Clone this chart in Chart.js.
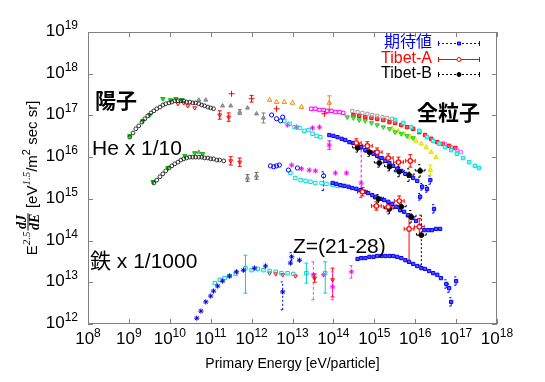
<!DOCTYPE html>
<html lang="ja">
<head>
<meta charset="utf-8">
<title>Cosmic ray energy spectrum</title>
<script src="https://cdn.jsdelivr.net/npm/chart.js@4.4.1/dist/chart.umd.min.js"></script>
<style>
html,body{margin:0;padding:0;background:#ffffff;}
canvas{display:block;}
</style>
</head>
<body>
<canvas id="chart" width="545" height="382"></canvas>
<script>
// ---- axis decades (tick labels are 10^n) ----
const xDecades = [8, 9, 10, 11, 12, 13, 14, 15, 16, 17, 18];
const yDecades = [12, 13, 14, 15, 16, 17, 18, 19];

// ---- data: each point = [log10 E (eV), log10 E^2.5 dJ/dE, err down (dex), err up (dex), x err (dex)] ----
// 期待値 (expected), proton / He / Fe groups
const expP = [[13.90,16.53],[14.00,16.51],[14.10,16.48],[14.20,16.44],[14.29,16.41],[14.39,16.36],[14.49,16.34],[14.59,16.29],[14.68,16.24],[14.78,16.17],[14.88,16.12],[14.98,16.08],[15.07,16.03],[15.17,15.98],[15.27,15.91],[15.37,15.86],[15.46,15.79],[15.56,15.72],[15.66,15.67],[15.76,15.60],[15.85,15.55],[15.95,15.50],[16.05,15.43],[16.17,15.29,0.08,0.08],[16.29,15.24,0.08,0.08],[16.37,15.45,0.1,0.1]];
const expHe = [[13.98,15.38],[14.07,15.36],[14.17,15.33],[14.27,15.31],[14.37,15.29],[14.46,15.26],[14.56,15.24],[14.66,15.21],[14.76,15.17],[14.85,15.14],[14.95,15.09],[15.05,15.05],[15.15,15.00],[15.24,14.97],[15.34,14.93],[15.44,14.88],[15.54,14.81],[15.63,14.73],[15.73,14.69],[15.83,14.61],[15.93,14.54],[16.02,14.47],[16.12,14.35],[16.22,14.25],[16.32,14.25],[16.41,14.25],[16.51,14.28],[16.61,14.28],[16.12,15.05,0.08,0.08],[16.46,14.76,0.1,0.1]];
const expFe = [[14.59,13.56],[14.68,13.58],[14.78,13.58],[14.88,13.61],[14.98,13.61],[15.07,13.63],[15.17,13.63],[15.27,13.63],[15.37,13.63],[15.46,13.63],[15.56,13.61],[15.66,13.58],[15.76,13.53],[15.85,13.49],[15.95,13.44],[16.05,13.39],[16.15,13.34],[16.24,13.32],[16.34,13.27],[16.44,13.22],[16.54,13.18],[16.63,13.10],[16.76,12.96,0.1,0.1],[16.83,12.86,0.1,0.1],[16.88,12.53,0.1,0.1],[17.00,13.03,0.1,0.1]];

// Tibet-A / Tibet-B
const tibetA_p = [[14.56,16.34,0.1,0.1,0.12],[14.83,16.27,0.1,0.1,0.12],[15.07,16.12,0.1,0.1,0.12],[15.34,15.98,0.1,0.1,0.12],[15.59,15.88,0.12,0.12,0.12],[15.88,15.91,0.15,0.15,0.12]];
const tibetA_he = [[14.71,15.17,0.1,0.1,0.12],[15.05,14.83,0.1,0.1,0.12],[15.34,14.81,0.12,0.12,0.12],[15.61,14.95,0.12,0.12,0.12],[15.85,14.28,0.82,0.29,0.12],[16.10,14.33,0.2,0.2,0.12]];
const tibetB_p = [[14.59,16.22,0.1,0.1,0.12],[14.88,16.12,0.1,0.1,0.12],[15.12,15.86,0.1,0.1,0.12],[15.37,15.77,0.1,0.1,0.12],[15.61,15.65,0.12,0.12,0.12],[15.85,15.57,0.15,0.15,0.12],[16.12,15.67,0.15,0.15,0.12]];
const tibetB_he = [[15.10,15.00,0.1,0.1,0.12],[15.37,14.76,0.12,0.12,0.12],[15.66,14.81,0.12,0.12,0.12],[15.90,14.57,0.15,0.15,0.12],[16.15,14.13,0.72,0.48,0.12]];

// proton (陽子) direct measurements
const pBlack = [[9.02,16.48],[9.10,16.58],[9.17,16.68],[9.24,16.75],[9.32,16.84],[9.39,16.92],[9.46,16.99],[9.54,17.06],[9.61,17.11],[9.68,17.16],[9.76,17.20],[9.83,17.25],[9.90,17.28],[9.98,17.30],[10.05,17.32],[10.12,17.35],[10.20,17.35],[10.27,17.35],[10.34,17.35],[10.41,17.32],[10.49,17.32],[10.56,17.30],[10.63,17.30],[10.71,17.28],[10.78,17.25],[10.85,17.23],[10.93,17.20],[11.00,17.18],[11.07,17.16]];
const pGreen = [[9.02,16.51],[9.34,16.87],[9.51,17.01],[9.83,17.40],[10.02,17.37],[10.15,17.40],[10.29,17.37]];
const pRed = [[10.20,17.28],[10.34,17.30],[10.44,17.23],[10.61,17.18],[11.22,17.01,0.1,0.1],[11.44,16.96,0.1,0.1]];
const pRedPlus = [[11.51,17.52],[12.00,17.40,0.08,0.08],[12.61,17.16],[13.78,17.04]];
const pGray = [[10.71,17.37],[10.88,17.37],[11.29,17.23],[11.49,17.23],[11.71,17.08,0.06,0.06],[11.90,17.18],[12.12,17.04],[12.29,16.94,0.12,0.12]];
const pOrange = [[12.44,17.37],[12.61,17.32],[12.80,17.32],[13.00,17.30],[13.22,17.20],[13.90,17.30,0.17,0.17]];
const pBlue = [[12.49,17.01],[12.61,16.92],[12.71,16.87],[12.76,16.96]];
const pCyan = [[12.80,16.87],[12.93,16.80],[13.05,16.72],[13.17,16.70],[13.29,16.63],[13.39,16.65],[13.49,16.56],[13.59,16.51],[13.68,16.48]];
const pMagenta = [[12.88,16.77],[13.10,16.72],[13.49,16.70],[13.66,16.72],[13.90,16.29,0.1,0.1]];

// helium (He x 1/10)
const heBlack = [[9.61,15.38],[9.68,15.45],[9.76,15.53],[9.83,15.60],[9.90,15.67],[9.98,15.74],[10.05,15.79],[10.12,15.84],[10.20,15.88],[10.27,15.93],[10.34,15.96],[10.41,15.98],[10.49,16.00],[10.56,16.00],[10.63,16.00],[10.71,16.00],[10.78,16.00],[10.85,15.98],[10.93,15.98],[11.00,15.96],[11.07,15.96],[11.15,15.93],[11.22,15.93],[11.32,15.91]];
const heGreen = [[9.59,15.41],[9.95,15.74],[10.37,16.03],[10.61,16.10],[10.80,16.08]];
const heGray = [[10.71,16.12],[11.90,15.50,0.08,0.08],[12.12,15.55,0.08,0.08]];
const heRed = [[11.49,15.91,0.1,0.1],[11.71,15.88,0.1,0.1]];
const heBlue = [[12.46,15.79],[12.54,15.77],[12.61,15.79],[12.68,15.81],[12.90,15.69],[13.12,15.74],[13.76,15.55,0.35,0.1]];
const heCyan = [[12.95,15.62],[13.07,15.50],[13.20,15.45],[13.32,15.43],[13.44,15.41],[13.56,15.38],[13.71,15.38],[13.83,15.36],[13.98,15.33],[14.10,15.31],[14.24,15.31]];
const heMagenta = [[12.98,15.81],[13.22,15.72],[13.41,15.69],[13.56,15.67],[14.05,15.62],[14.32,15.62],[14.68,15.38,0.35,0.8]];

// all particles (全粒子)
const allMagenta = [[13.46,17.16],[13.56,17.16],[13.66,17.13],[13.76,17.13],[13.85,17.11],[13.95,17.11],[14.05,17.08],[14.15,17.08],[14.24,17.06]];
const allGray = [[14.46,17.11],[14.59,17.08],[14.71,17.06],[14.83,17.04],[14.95,17.01],[15.07,16.99],[15.20,16.96],[15.32,16.94],[15.44,16.92]];
const allRed = [[14.49,17.01],[14.63,16.99],[14.78,16.96],[14.93,16.94],[15.07,16.92],[15.22,16.89],[15.37,16.84],[15.51,16.82],[15.66,16.77],[15.80,16.72],[15.95,16.68],[16.10,16.60],[16.24,16.53],[16.39,16.44],[16.54,16.36],[16.68,16.32],[16.83,16.27],[16.98,16.22]];
const allGreen = [[14.34,16.96],[14.49,16.94],[14.63,16.89],[14.78,16.87],[14.93,16.82],[15.07,16.77],[15.22,16.72],[15.37,16.68],[15.51,16.60],[15.66,16.56],[15.80,16.51],[15.95,16.46]];
const allYellow = [[15.44,16.68],[15.59,16.63],[15.73,16.56],[15.88,16.48],[16.02,16.39],[16.15,16.32],[16.27,16.24],[16.39,16.12],[16.51,16.00],[16.37,15.69,0.12,0.12]];
const allCyan = [[15.51,16.89],[15.71,16.82],[15.90,16.72],[16.10,16.63],[16.29,16.48],[16.44,16.39],[16.59,16.32],[16.73,16.24],[16.88,16.17],[17.02,16.08],[17.17,15.98],[17.32,15.88],[17.46,15.79],[17.56,15.74]];
const allPink = [[16.73,16.32],[16.88,16.24],[17.02,16.17],[17.12,16.12]];

// iron (鉄 x 1/1000)
const feBlue = [[10.66,12.14],[10.76,12.31],[10.88,12.53],[11.00,12.67],[11.07,12.79],[11.17,12.91],[11.29,13.03],[11.46,13.15],[11.63,13.25],[11.80,13.29],[12.07,13.34],[12.34,13.39],[12.76,12.77,0.43,0.24],[12.95,13.46],[12.98,13.61,0.1,0.1],[13.17,13.53]];
const feCyan = [[11.10,12.98],[11.22,13.06],[11.34,13.10],[11.46,13.15],[11.61,13.20],[11.85,13.34,0.6,0.31],[12.00,13.29],[12.15,13.32],[12.29,13.29],[12.44,13.27],[12.59,13.25],[12.73,13.22],[12.88,13.22],[13.02,13.20],[13.34,13.22,0.24,0.24],[13.80,13.22,0.48,0.27]];
const feRed = [[12.44,13.22],[12.59,13.20],[12.76,13.18],[13.07,13.15],[13.54,13.10,0.1,0.1],[13.98,13.06,0.41,0.28]];
const feMagenta = [[13.51,13.18,0.6,0.31],[13.76,13.18],[13.98,12.89,0.31,0.36],[14.44,13.25,0.15,0.15]];

// ---- build Chart.js data ----
function pts(arr) {
  return arr.map(p => ({ x: Math.pow(10, p[0]), y: Math.pow(10, p[1]), dn: p[2] || 0, up: p[3] || 0, xe: p[4] || 0 }));
}
function ds(label, arr, st) {
  return Object.assign({ label: label, data: pts(arr), showLine: false, pointBorderWidth: 1 }, st);
}
const NONE = 'rgba(0,0,0,0)';
const datasets = [
  ds('Tibet-A', tibetA_p.concat(tibetA_he), { pointStyle: 'circle', pointRadius: 2.2, pointBorderColor: '#ff0000', pointBackgroundColor: '#ffffff', pointBorderWidth: 1.2, errColor: '#ff0000', errDash: [], legend: true }),
  ds('Tibet-B', tibetB_p.concat(tibetB_he), { pointStyle: 'circle', pointRadius: 2.4, pointBorderColor: '#000000', pointBackgroundColor: '#000000', errColor: '#000000', errDash: [2, 2], legend: true }),
  ds('期待値', expP.concat(expHe, expFe), { pointStyle: 'rect', pointRadius: 2.3, pointBorderColor: '#0000ff', pointBackgroundColor: '#5050ff', errColor: '#0000ff', errDash: [2, 2], legend: true }),
  ds('p black', pBlack, { pointStyle: 'circle', pointRadius: 1.9, pointBorderColor: '#202020', pointBackgroundColor: NONE, pointBorderWidth: 0.9 }),
  ds('p green', pGreen, { pointStyle: 'triangle', pointRotation: 180, pointRadius: 2.5, pointBorderColor: '#00c000', pointBackgroundColor: '#30d030' }),
  ds('p red', pRed, { pointStyle: 'triangle', pointRotation: 180, pointRadius: 2.2, pointBorderColor: '#ff0000', pointBackgroundColor: NONE, errColor: '#ff0000' }),
  ds('p red +', pRedPlus, { pointStyle: 'cross', pointRadius: 3, pointBorderColor: '#ff0000', errColor: '#ff0000' }),
  ds('p gray', pGray, { pointStyle: 'triangle', pointRadius: 2.3, pointBorderColor: '#808080', pointBackgroundColor: '#a0a0a0', errColor: '#808080' }),
  ds('p orange', pOrange, { pointStyle: 'triangle', pointRadius: 2.6, pointBorderColor: '#ff8000', pointBackgroundColor: NONE, errColor: '#ff8000' }),
  ds('p blue', pBlue, { pointStyle: 'circle', pointRadius: 2.1, pointBorderColor: '#0000ff', pointBackgroundColor: NONE }),
  ds('p cyan', pCyan, { pointStyle: 'rect', pointRadius: 2.4, pointBorderColor: '#00d8d8', pointBackgroundColor: NONE }),
  ds('p magenta', pMagenta, { pointStyle: 'star', pointRadius: 2.6, pointBorderColor: '#ff00ff', pointBackgroundColor: '#ff00ff', errColor: '#ff00ff' }),
  ds('He black', heBlack, { pointStyle: 'circle', pointRadius: 1.9, pointBorderColor: '#202020', pointBackgroundColor: NONE, pointBorderWidth: 0.9 }),
  ds('He green', heGreen, { pointStyle: 'triangle', pointRotation: 180, pointRadius: 2.5, pointBorderColor: '#00c000', pointBackgroundColor: '#30d030' }),
  ds('He gray', heGray, { pointStyle: 'triangle', pointRadius: 2.3, pointBorderColor: '#808080', pointBackgroundColor: '#a0a0a0', errColor: '#606060' }),
  ds('He red', heRed, { pointStyle: 'triangle', pointRotation: 180, pointRadius: 2.2, pointBorderColor: '#ff0000', pointBackgroundColor: NONE, errColor: '#ff0000' }),
  ds('He blue', heBlue, { pointStyle: 'circle', pointRadius: 2.1, pointBorderColor: '#0000ff', pointBackgroundColor: NONE, errColor: '#0000ff', errDash: [2, 2] }),
  ds('He cyan', heCyan, { pointStyle: 'rect', pointRadius: 2.4, pointBorderColor: '#00d8d8', pointBackgroundColor: NONE }),
  ds('He magenta', heMagenta, { pointStyle: 'star', pointRadius: 2.6, pointBorderColor: '#ff00ff', pointBackgroundColor: '#ff00ff', errColor: '#ff00ff', errDash: [3, 2] }),
  ds('all magenta', allMagenta, { pointStyle: 'rect', pointRadius: 2.4, pointBorderColor: '#ff00ff', pointBackgroundColor: NONE }),
  ds('all gray', allGray, { pointStyle: 'rect', pointRadius: 2.2, pointBorderColor: '#a0a0a0', pointBackgroundColor: NONE }),
  ds('all green', allGreen, { pointStyle: 'triangle', pointRotation: 180, pointRadius: 2.5, pointBorderColor: '#20d020', pointBackgroundColor: '#60e060' }),
  ds('all yellow', allYellow, { pointStyle: 'triangle', pointRadius: 2.6, pointBorderColor: '#e0e000', pointBackgroundColor: '#f0f040', errColor: '#e0e000' }),
  ds('all cyan', allCyan, { pointStyle: 'rect', pointRadius: 2.5, pointBorderColor: '#00e0e0', pointBackgroundColor: '#80f0f0' }),
  ds('all pink', allPink, { pointStyle: 'rect', pointRadius: 2.2, pointBorderColor: '#ff60ff', pointBackgroundColor: NONE }),
  ds('all red', allRed, { pointStyle: 'rect', pointRadius: 2.4, pointBorderColor: '#ff0000', pointBackgroundColor: '#ff5050' }),
  ds('Fe blue', feBlue, { pointStyle: 'star', pointRadius: 2.6, pointBorderColor: '#0000e0', pointBackgroundColor: '#0000e0', errColor: '#0000e0', errDash: [2, 2] }),
  ds('Fe cyan', feCyan, { pointStyle: 'rect', pointRadius: 2.4, pointBorderColor: '#00d0d0', pointBackgroundColor: NONE, errColor: '#00d0d0' }),
  ds('Fe red', feRed, { pointStyle: 'triangle', pointRotation: 180, pointRadius: 2.2, pointBorderColor: '#ff0000', pointBackgroundColor: NONE, errColor: '#ff0000' }),
  ds('Fe magenta', feMagenta, { pointStyle: 'star', pointRadius: 2.6, pointBorderColor: '#ff00ff', pointBackgroundColor: '#ff00ff', errColor: '#ff40ff', errDash: [3, 2] })
];

// ---- drawing helpers ----
const SANS = '"Liberation Sans", Arial, sans-serif';
const JP = '"Noto Sans CJK JP", sans-serif';
const SERIF = '"Liberation Serif", "Times New Roman", serif';

function drawPow(ctx, exp, x, yc, align) {
  ctx.font = '17px ' + SANS;
  const wb = ctx.measureText('10').width;
  ctx.font = '12px ' + SANS;
  const ws = ctx.measureText(String(exp)).width;
  const left = align === 'right' ? x - wb - ws : x - (wb + ws) / 2;
  ctx.textAlign = 'left';
  ctx.textBaseline = 'alphabetic';
  ctx.fillStyle = '#000';
  ctx.font = '17px ' + SANS;
  ctx.fillText('10', left, yc + 6);
  ctx.font = '12px ' + SANS;
  ctx.fillText(String(exp), left + wb, yc - 1);
}

function drawYTitle(ctx, cx, cy) {
  const main = '15px ' + SANS, sup = 'italic 11px ' + SERIF, sup2 = '11px ' + SANS, frac = 'bold italic 14px ' + SERIF;
  const segs = [
    { t: 'E', f: main, dy: 0 }, { t: '2.5', f: sup, dy: -7 },
    { frac: true }, { t: ' [eV', f: main, dy: 0 }, { t: '1.5', f: sup, dy: -7 },
    { t: '/m', f: main, dy: 0 }, { t: '2', f: sup2, dy: -7 }, { t: ' sec sr]', f: main, dy: 0 }
  ];
  let total = 0;
  segs.forEach(s => {
    if (s.frac) { ctx.font = frac; s.w = Math.max(ctx.measureText('dJ').width, ctx.measureText('dE').width) + 3; }
    else { ctx.font = s.f; s.w = ctx.measureText(s.t).width; }
    total += s.w;
  });
  ctx.save();
  ctx.translate(cx, cy + total / 2);
  ctx.rotate(-Math.PI / 2);
  ctx.fillStyle = '#000';
  ctx.textBaseline = 'alphabetic';
  let x = 0;
  segs.forEach(s => {
    if (s.frac) {
      ctx.font = frac; ctx.textAlign = 'center';
      ctx.fillText('dJ', x + s.w / 2, -11);
      ctx.fillText('dE', x + s.w / 2, 2);
      ctx.fillRect(x + 1, -9.5, s.w - 2, 1);
      ctx.textAlign = 'left';
    } else {
      ctx.font = s.f; ctx.textAlign = 'left';
      ctx.fillText(s.t, x, s.dy);
    }
    x += s.w;
  });
  ctx.restore();
}

const decorPlugin = {
  id: 'decor',
  beforeDatasetsDraw(chart) {
    const ctx = chart.ctx, xs = chart.scales.x, ys = chart.scales.y, ca = chart.chartArea;
    ctx.save();
    ctx.beginPath(); ctx.rect(ca.left, ca.top, ca.right - ca.left, ca.bottom - ca.top); ctx.clip();
    ctx.lineWidth = 1;
    chart.data.datasets.forEach(d => {
      ctx.strokeStyle = d.errColor || d.pointBorderColor;
      ctx.setLineDash(d.errDash || []);
      d.data.forEach(p => {
        const px = xs.getPixelForValue(p.x), py = ys.getPixelForValue(p.y);
        const ly = Math.log10(p.y), lx = Math.log10(p.x);
        if (p.dn || p.up) {
          const y1 = ys.getPixelForValue(Math.pow(10, ly - p.dn)), y2 = ys.getPixelForValue(Math.pow(10, ly + p.up));
          ctx.beginPath();
          ctx.moveTo(px, y1); ctx.lineTo(px, y2);
          ctx.moveTo(px - 2, y1); ctx.lineTo(px + 2, y1);
          ctx.moveTo(px - 2, y2); ctx.lineTo(px + 2, y2);
          ctx.stroke();
        }
        if (p.xe) {
          const x1 = xs.getPixelForValue(Math.pow(10, lx - p.xe)), x2 = xs.getPixelForValue(Math.pow(10, lx + p.xe));
          ctx.beginPath();
          ctx.moveTo(x1, py); ctx.lineTo(x2, py);
          ctx.moveTo(x1, py - 2); ctx.lineTo(x1, py + 2);
          ctx.moveTo(x2, py - 2); ctx.lineTo(x2, py + 2);
          ctx.stroke();
        }
      });
    });
    ctx.restore();
  },
  afterDraw(chart) {
    const ctx = chart.ctx, xs = chart.scales.x, ys = chart.scales.y, ca = chart.chartArea;
    ctx.save();
    // border
    ctx.strokeStyle = '#808080'; ctx.lineWidth = 1; ctx.setLineDash([]);
    ctx.strokeRect(Math.round(ca.left) + 0.5, Math.round(ca.top) + 0.5, Math.round(ca.right - ca.left) - 1, Math.round(ca.bottom - ca.top) - 1);
    // inward ticks
    ctx.beginPath();
    xDecades.forEach(e => {
      const x = Math.round(xs.getPixelForValue(Math.pow(10, e))) + 0.5;
      ctx.moveTo(x, ca.bottom); ctx.lineTo(x, ca.bottom - 5);
      ctx.moveTo(x, ca.top); ctx.lineTo(x, ca.top + 5);
    });
    yDecades.forEach(e => {
      const y = Math.round(ys.getPixelForValue(Math.pow(10, e))) + 0.5;
      ctx.moveTo(ca.left, y); ctx.lineTo(ca.left + 5, y);
      ctx.moveTo(ca.right, y); ctx.lineTo(ca.right - 5, y);
    });
    ctx.stroke();
    // tick labels
    xDecades.forEach(e => drawPow(ctx, e, xs.getPixelForValue(Math.pow(10, e)), 338, 'center'));
    yDecades.forEach(e => drawPow(ctx, e, 78, ys.getPixelForValue(Math.pow(10, e)) - 2, 'right'));
    // axis titles
    ctx.fillStyle = '#000';
    ctx.font = '14px ' + SANS; ctx.textAlign = 'center'; ctx.textBaseline = 'alphabetic';
    ctx.fillText('Primary Energy [eV/particle]', (ca.left + ca.right) / 2, 368);
    drawYTitle(ctx, 37, (ca.top + ca.bottom) / 2);
    // annotations
    ctx.textAlign = 'left'; ctx.textBaseline = 'middle';
    ctx.font = 'bold 21px ' + JP; ctx.fillText('陽子', 95, 100);
    ctx.font = '21px ' + SANS; ctx.fillText('He x 1/10', 92, 149);
    ctx.font = '21px ' + SANS + ', ' + JP; ctx.fillText('鉄 x 1/1000', 90, 262);
    ctx.font = 'bold 21px ' + JP; ctx.fillText('全粒子', 417, 112);
    ctx.font = '21px ' + SANS; ctx.fillText('Z=(21-28)', 293, 247);
    // legend
    const legendY = { '期待値': 43, 'Tibet-A': 59, 'Tibet-B': 74 };
    const textColor = { '期待値': '#0000ff', 'Tibet-A': '#ff0000', 'Tibet-B': '#000000' };
    chart.data.datasets.filter(d => d.legend).forEach(d => {
      const y = legendY[d.label];
      ctx.font = '16px ' + SANS + ', ' + JP; ctx.textAlign = 'right'; ctx.textBaseline = 'middle';
      ctx.fillStyle = textColor[d.label];
      ctx.fillText(d.label, 432, y);
      ctx.strokeStyle = d.errColor; ctx.lineWidth = 1; ctx.setLineDash(d.errDash || []);
      ctx.beginPath(); ctx.moveTo(438, y + 0.5); ctx.lineTo(480, y + 0.5); ctx.stroke();
      ctx.setLineDash([]);
      ctx.beginPath(); ctx.moveTo(438.5, y - 2); ctx.lineTo(438.5, y + 3); ctx.moveTo(479.5, y - 2); ctx.lineTo(479.5, y + 3); ctx.stroke();
      ctx.fillStyle = d.pointBackgroundColor; ctx.strokeStyle = d.pointBorderColor;
      ctx.beginPath();
      if (d.pointStyle === 'rect') ctx.rect(457.5, y - 1, 3, 3); else ctx.arc(459, y + 0.5, 2, 0, Math.PI * 2);
      ctx.fill(); ctx.stroke();
    });
    ctx.restore();
  }
};

new Chart(document.getElementById('chart'), {
  type: 'scatter',
  data: { datasets: datasets },
  options: {
    responsive: false,
    devicePixelRatio: 1,
    animation: false,
    layout: { padding: { left: 0, right: 48, top: 32, bottom: 0 } },
    plugins: { legend: { display: false }, tooltip: { enabled: false } },
    scales: {
      x: {
        type: 'logarithmic', min: 1e8, max: 1e18, position: 'bottom',
        grid: { display: false }, border: { display: false }, ticks: { display: false },
        afterFit(scale) { scale.height = 58; }
      },
      y: {
        type: 'logarithmic', min: 1e12, max: 1e19, position: 'left',
        grid: { display: false }, border: { display: false }, ticks: { display: false },
        afterFit(scale) { scale.width = 88; }
      }
    }
  },
  plugins: [decorPlugin]
});
</script>
</body>
</html>
